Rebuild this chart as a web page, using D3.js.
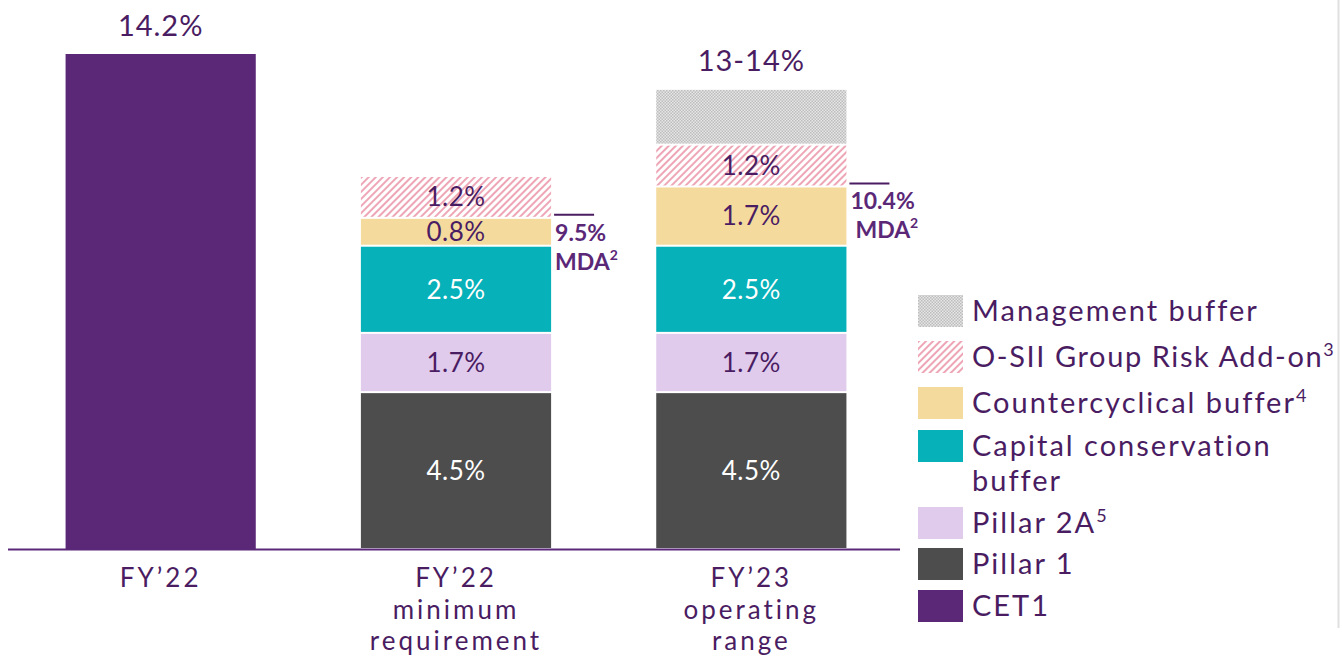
<!DOCTYPE html>
<html>
<head>
<meta charset="utf-8">
<script src="https://cdn.jsdelivr.net/npm/d3@7"></script>
<style>
  body { margin: 0; background: #fff; }
  text { font-family: Lato, "Open Sans", sans-serif; }
</style>
</head>
<body>
<script>
/* data */
var categories = ["FY'22", "FY'22 minimum requirement", "FY'23 operating range"];
var categoryLines = [["FY\u201922"], ["FY\u201922", "minimum", "requirement"], ["FY\u201923", "operating", "range"]];
var cet1 = [14.2, 0, 0];
var pillar1 = [0, 4.5, 4.5];
var pillar2a = [0, 1.7, 1.7];
var ccb = [0, 2.5, 2.5];
var ccyb = [0, 0.8, 1.7];
var osii = [0, 1.2, 1.2];
var mgmt = [0, 0, 1.6];
var topLabels = ["14.2%", "", "13-14%"];
var mdaValues = [null, 9.5, 10.4];

var keys = ['cet1', 'pillar1', 'pillar2a', 'ccb', 'ccyb', 'osii', 'mgmt'];
var legendItems = [
  { key: 'mgmt', lines: ['Management buffer'] },
  { key: 'osii', lines: ['O-SII Group Risk Add-on'], sup: '3' },
  { key: 'ccyb', lines: ['Countercyclical buffer'], sup: '4' },
  { key: 'ccb', lines: ['Capital conservation', 'buffer'] },
  { key: 'pillar2a', lines: ['Pillar 2A'], sup: '5' },
  { key: 'pillar1', lines: ['Pillar 1'] },
  { key: 'cet1', lines: ['CET1'] }
];

var width = 1342;
var height = 657;
var textColour = '#4a1c62';
var colours = {
  cet1: '#5b2878', pillar1: '#4d4d4d', pillar2a: '#e0cbec', ccb: '#06b1b9',
  ccyb: '#f5da9e', osii: 'url(#hatch)', mgmt: 'url(#dots)'
};
var darkKeys = ['cet1', 'pillar1', 'ccb'];

var table = categories.map(function (c, i) {
  return { cat: c, cet1: cet1[i], pillar1: pillar1[i], pillar2a: pillar2a[i], ccb: ccb[i],
    ccyb: ccyb[i], osii: osii[i], mgmt: mgmt[i] };
});

/* canvas */
var svg = d3.select('body').append('svg')
  .attr('width', width)
  .attr('height', height);

var defs = svg.append('defs');
var hatch = defs.append('pattern').attr('id', 'hatch')
  .attr('patternUnits', 'userSpaceOnUse').attr('width', 5).attr('height', 5)
  .attr('patternTransform', 'rotate(45)');
hatch.append('rect').attr('width', 5).attr('height', 5).attr('fill', '#fff');
hatch.append('rect').attr('width', 2).attr('height', 5).attr('fill', '#eea6b6');

var dots = defs.append('pattern').attr('id', 'dots')
  .attr('patternUnits', 'userSpaceOnUse').attr('width', 3).attr('height', 3);
dots.append('rect').attr('width', 3).attr('height', 3).attr('fill', '#e6e6e6');
dots.append('rect').attr('width', 1.5).attr('height', 1.5).attr('fill', '#bdbdbd');
dots.append('rect').attr('x', 1.5).attr('y', 1.5).attr('width', 1.5).attr('height', 1.5).attr('fill', '#bdbdbd');

/* scales */
var x = d3.scaleBand().domain(categories).range([13, 899]).paddingInner(0.356).paddingOuter(0.178);
var y = d3.scaleLinear().domain([0, 14.2]).range([549, 54]);

var stacked = d3.stack().keys(keys)(table);

var layers = svg.selectAll('g.layer').data(stacked).enter().append('g')
  .attr('class', 'layer');

layers.selectAll('rect').data(function (s) {
  return s.map(function (d) { return { key: s.key, d: d, cat: d.data.cat }; });
}).enter().filter(function (o) { return o.d[1] - o.d[0] > 0; })
  .append('rect')
  .attr('x', function (o) { return x(o.cat); })
  .attr('width', x.bandwidth())
  .attr('y', function (o) { return y(o.d[1]) + (o.key === 'cet1' ? 0 : 1); })
  .attr('height', function (o) { return y(o.d[0]) - y(o.d[1]) - (o.key === 'cet1' ? 0 : 2); })
  .attr('fill', function (o) { return colours[o.key]; });

/* segment labels */
layers.selectAll('text').data(function (s) {
  return s.map(function (d) { return { key: s.key, d: d, cat: d.data.cat }; });
}).enter().filter(function (o) { return o.d[1] - o.d[0] > 0 && o.key !== 'cet1' && o.key !== 'mgmt'; })
  .append('text')
  .attr('x', function (o) { return x(o.cat) + x.bandwidth() / 2; })
  .attr('y', function (o) { return (y(o.d[0]) + y(o.d[1])) / 2; })
  .attr('dy', '0.36em')
  .attr('text-anchor', 'middle')
  .attr('font-size', 26)
  .attr('letter-spacing', 0.5)
  .attr('fill', function (o) { return darkKeys.indexOf(o.key) >= 0 ? '#fff' : textColour; })
  .text(function (o) { return d3.format('.1f')(o.d[1] - o.d[0]) + '%'; });

/* totals above bars */
svg.selectAll('text.total').data(table).enter().append('text')
  .attr('class', 'total')
  .attr('x', function (d) { return x(d.cat) + x.bandwidth() / 2; })
  .attr('y', function (d) { return y(d3.sum(keys, function (k) { return d[k]; })) - 18; })
  .attr('text-anchor', 'middle')
  .attr('font-size', 29)
  .attr('letter-spacing', 1)
  .attr('fill', textColour)
  .text(function (d, i) { return topLabels[i]; });

/* MDA markers */
var mda = svg.selectAll('g.mda').data(categories.filter(function (c, i) { return mdaValues[i] !== null; }))
  .enter().append('g').attr('class', 'mda');
mda.each(function (c) {
  var v = mdaValues[categories.indexOf(c)];
  var g = d3.select(this);
  var x0 = x(c) + x.bandwidth() + 3;
  g.append('line').attr('x1', x0).attr('x2', x0 + 40)
    .attr('y1', y(v) - 3).attr('y2', y(v) - 3)
    .attr('stroke', textColour).attr('stroke-width', 2);
  g.append('text').attr('font-size', 23).attr('font-weight', 'bold').attr('fill', '#5b2878')
    .attr('x', x0 + 1).attr('y', y(v) + 23).text(d3.format('.1f')(v) + '%');
  var t2 = g.append('text').attr('font-size', 23).attr('font-weight', 'bold').attr('fill', '#5b2878')
    .attr('x', x0 + (v >= 10 ? 6 : 1)).attr('y', y(v) + 52);
  t2.append('tspan').text('MDA');
  t2.append('tspan').attr('font-size', 14).attr('dy', -10).text('2');
});

/* axis baseline */
svg.append('line').attr('x1', 8).attr('x2', 900).attr('y1', 549.5).attr('y2', 549.5)
  .attr('stroke', '#5b2878').attr('stroke-width', 2);

/* category labels */
svg.selectAll('text.cat').data(categories).enter().append('text')
  .attr('class', 'cat')
  .attr('text-anchor', 'middle')
  .attr('font-size', 26)
  .attr('letter-spacing', 3)
  .attr('fill', textColour)
  .each(function (c, i) {
    var t = d3.select(this);
    categoryLines[i].forEach(function (l, j) {
      t.append('tspan').attr('x', x(c) + x.bandwidth() / 2).attr('y', 587 + j * 31.5).text(l);
    });
  });

/* legend */
var legendY = [311, 357, 403, 446, 523, 564, 606];
var legend = svg.append('g').attr('class', 'legend');
legendItems.forEach(function (item, i) {
  var cy = legendY[i];
  legend.append('rect').attr('x', 918).attr('y', cy - 16).attr('width', 45).attr('height', 32)
    .attr('fill', colours[item.key]);
  // the long O-SII line is squeezed a bit so its footnote mark stays inside the page
  var t = legend.append('text').attr('font-size', 29)
    .attr('letter-spacing', item.key === 'osii' ? 1.6 : 2).attr('fill', textColour);
  item.lines.forEach(function (l, j) {
    t.append('tspan').attr('x', 972).attr('y', cy + 10 + j * 35).text(l);
    if (item.sup && j === item.lines.length - 1) {
      t.append('tspan').attr('font-size', 18).attr('dy', -11).text(item.sup);
    }
  });
});

/* right border */
svg.append('line').attr('x1', 1338.5).attr('x2', 1338.5).attr('y1', 0).attr('y2', 628)
  .attr('stroke', '#e0e0e0').attr('stroke-width', 2);
</script>
</body>
</html>
